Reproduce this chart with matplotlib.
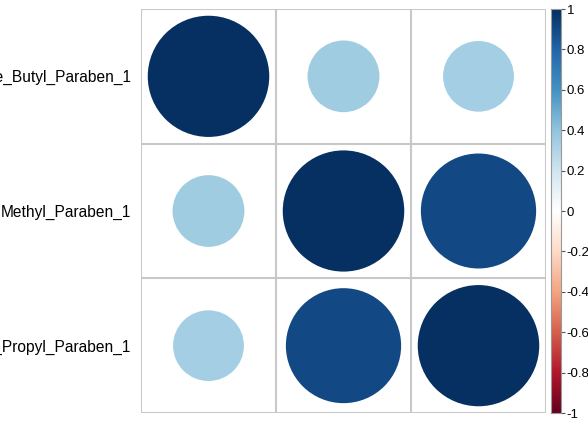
import numpy as np
import matplotlib
matplotlib.use("Agg")
import matplotlib.pyplot as plt
from matplotlib.colors import LinearSegmentedColormap, ListedColormap, Normalize
from matplotlib.patches import Circle

plt.rcParams['font.family'] = ['Liberation Sans', 'DejaVu Sans']

labels = ["Urine_Butyl_Paraben_1", "Methyl_Paraben_1", "Urine_Propyl_Paraben_1"]
corr = np.array([
    [1.00, 0.35, 0.34],
    [0.35, 1.00, 0.90],
    [0.34, 0.90, 1.00],
])
cbar_ticks = [-1, -0.8, -0.6, -0.4, -0.2, 0, 0.2, 0.4, 0.6, 0.8, 1]
cbar_ticklabels = ["-1", "-0.8", "-0.6", "-0.4", "-0.2", "0", "0.2", "0.4", "0.6", "0.8", "1"]

pal = ["#67001F", "#B2182B", "#D6604D", "#F4A582", "#FDDBC7", "#FFFFFF",
       "#D1E5F0", "#92C5DE", "#4393C3", "#2166AC", "#053061"]
base = LinearSegmentedColormap.from_list("rdbu", pal, N=200)
cmap = ListedColormap(base(np.linspace(0, 1, 200)))
norm = Normalize(-1, 1)

fig = plt.figure(figsize=(5.88, 4.28), dpi=100)
W, H = 588, 428
ax = fig.add_axes([141 / W, (H - 413) / H, 405 / W, 404 / H])
n = len(labels)
ax.set_xlim(0, n)
ax.set_ylim(n, 0)
ax.set_aspect('auto')
for i in range(n):
    for j in range(n):
        r = corr[i, j]
        rad = 0.45 * np.sqrt(abs(r))
        ax.add_patch(Circle((j + 0.5, i + 0.5), rad, facecolor=cmap(norm(r)),
                            edgecolor='none', zorder=2))
grid_c = '#C8C8C8'
for k in range(n + 1):
    ax.axhline(k, color=grid_c, lw=1.5, zorder=3)
    ax.axvline(k, color=grid_c, lw=1.5, zorder=3)
for s in ax.spines.values():
    s.set_visible(False)
ax.set_xticks([])
ax.set_yticks([i + 0.5 for i in range(n)])
ax.set_yticklabels(labels, fontsize=11.2)
ax.tick_params(axis='y', length=0, pad=7)

cax = fig.add_axes([551 / W, (H - 413) / H, 10 / W, 404 / H])
grad = np.linspace(-1, 1, 200).reshape(-1, 1)
cax.imshow(grad, cmap=cmap, norm=norm, aspect='auto', origin='lower',
           extent=[0, 1, -1, 1])
cax.set_xlim(0, 1)
cax.set_ylim(-1, 1)
cax.set_xticks([])
cax.yaxis.tick_right()
cax.set_yticks(cbar_ticks)
cax.set_yticklabels(cbar_ticklabels, fontsize=9.5)
cax.tick_params(axis='y', length=3, width=0.8, pad=1, color='#555555')
for s in cax.spines.values():
    s.set_color('#999999')
    s.set_linewidth(0.8)

fig.savefig("out.png", dpi=100)
